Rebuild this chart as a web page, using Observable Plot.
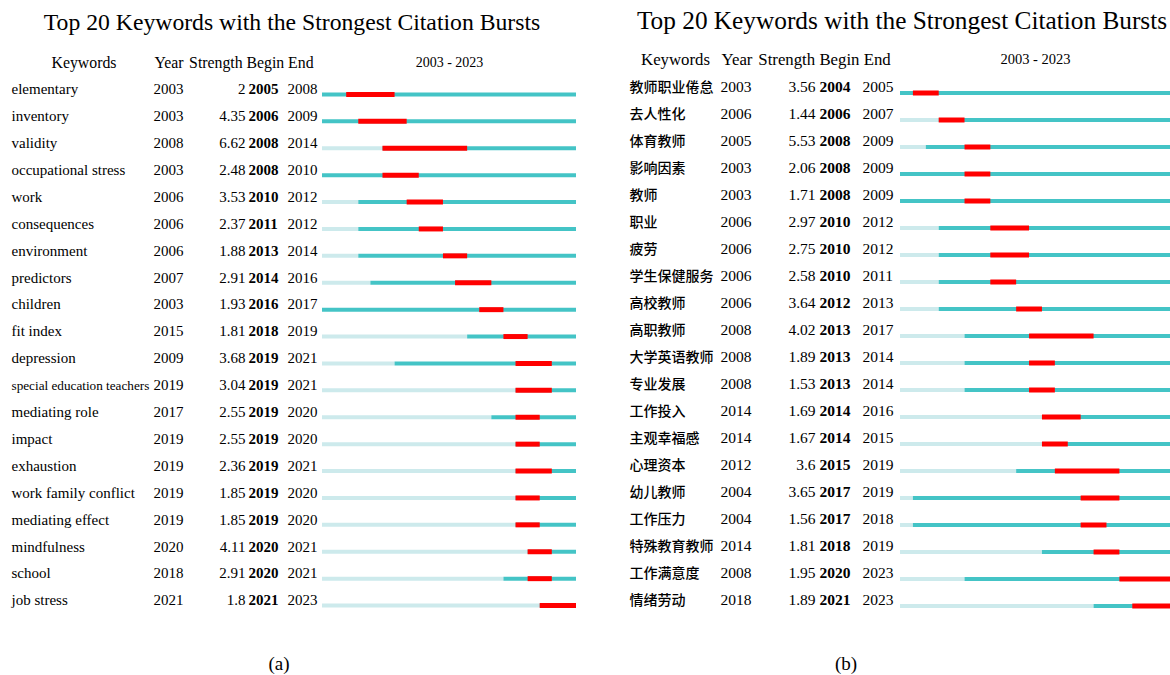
<!DOCTYPE html>
<html><head><meta charset="utf-8">
<script src="https://cdn.jsdelivr.net/npm/d3@7"></script>
<script src="https://cdn.jsdelivr.net/npm/@observablehq/plot@0.6"></script>
<style>
body{margin:0;background:#fff;width:1170px;height:675px;overflow:hidden;position:relative;font-family:"Liberation Serif","Times New Roman",serif;color:#000}
.title{position:absolute;text-align:center;white-space:nowrap}
.cap{position:absolute;font-size:19px;line-height:22px;text-align:center;width:60px}
.panel{position:absolute;top:0}
.panel svg{overflow:hidden;display:block}
</style></head><body>
<div class="title" style="left:0;width:584px;top:8px;font-size:23.7px;line-height:28px">Top 20 Keywords with the Strongest Citation Bursts</div>
<div class="title" style="left:590px;width:624px;top:6px;font-size:25.3px;line-height:28px">Top 20 Keywords with the Strongest Citation Bursts</div>
<div id="pa" class="panel" style="left:0"></div>
<div id="pb" class="panel" style="left:590px"></div>
<div class="cap" style="left:249px;top:653px">(a)</div>
<div class="cap" style="left:816px;top:653px">(b)</div>
<script>
// ---- data ----
const yearSpan = [2003, 2023];
const headers = ["Keywords", "Year", "Strength", "Begin", "End"];

const keywordsA = ["elementary","inventory","validity","occupational stress","work","consequences","environment","predictors","children","fit index","depression","special education teachers","mediating role","impact","exhaustion","work family conflict","mediating effect","mindfulness","school","job stress"];
const yearA = [2003,2003,2008,2003,2006,2006,2006,2007,2003,2015,2009,2019,2017,2019,2019,2019,2019,2020,2018,2021];
const strengthA = [2,4.35,6.62,2.48,3.53,2.37,1.88,2.91,1.93,1.81,3.68,3.04,2.55,2.55,2.36,1.85,1.85,4.11,2.91,1.8];
const beginA = [2005,2006,2008,2008,2010,2011,2013,2014,2016,2018,2019,2019,2019,2019,2019,2019,2019,2020,2020,2021];
const endA = [2008,2009,2014,2010,2012,2012,2014,2016,2017,2019,2021,2021,2020,2020,2021,2020,2020,2021,2021,2023];

const keywordsB = ["教师职业倦怠","去人性化","体育教师","影响因素","教师","职业","疲劳","学生保健服务","高校教师","高职教师","大学英语教师","专业发展","工作投入","主观幸福感","心理资本","幼儿教师","工作压力","特殊教育教师","工作满意度","情绪劳动"];
const yearB = [2003,2006,2005,2003,2003,2006,2006,2006,2006,2008,2008,2008,2014,2014,2012,2004,2004,2014,2008,2018];
const strengthB = [3.56,1.44,5.53,2.06,1.71,2.97,2.75,2.58,3.64,4.02,1.89,1.53,1.69,1.67,3.6,3.65,1.56,1.81,1.95,1.89];
const beginB = [2004,2006,2008,2008,2008,2010,2010,2010,2012,2013,2013,2013,2014,2014,2015,2017,2017,2018,2020,2021];
const endB = [2005,2007,2009,2009,2009,2012,2012,2011,2013,2017,2014,2014,2016,2015,2019,2019,2018,2019,2023,2023];

const LIGHT = "#cdeaec", TEAL = "#44c4c6", RED = "#ff0000";

const measureCtx = document.createElement("canvas").getContext("2d");
function fitSize(text, font, size, weight, maxW) {
  measureCtx.font = `${weight} ${size}px ${font}`;
  const w = measureCtx.measureText(text).width;
  return w > maxW ? size * maxW / w : size;
}

function panel(el, o) {
  const rows = o.keywords.map((k, i) => ({keyword: k, year: o.year[i], strength: o.strength[i], begin: o.begin[i], end: o.end[i]}));
  const ml = o.marginLeft, c = o.cols, hy = -(o.marginTop + o.step / 2 - o.headerY);
  const hdr = (t, x, anchor) => Plot.text([t], {text: d => d, frameAnchor: "top-left", lineAnchor: "middle", dx: x - ml, dy: o.step / 2 + hy, textAnchor: anchor, fontSize: o.headSize});
  const svg = Plot.plot({
    width: o.width, height: o.height,
    marginTop: o.marginTop, marginBottom: o.height - o.marginTop - o.step * rows.length,
    marginLeft: ml, marginRight: o.marginRight,
    x: {domain: [yearSpan[0], yearSpan[1] + 1], range: o.xRange, axis: null},
    y: {type: "point", domain: o.keywords, padding: 0.5, round: false, axis: null},
    style: {fontFamily: '"Liberation Serif","Times New Roman",serif', fontSize: o.fontSize + "px", color: "#000", background: "transparent"},
    marks: [
      Plot.ruleY(rows, {y: "keyword", x1: () => yearSpan[0], x2: "year", stroke: LIGHT, strokeWidth: 4, dy: o.barDy}),
      Plot.ruleY(rows, {y: "keyword", x1: "year", x2: () => yearSpan[1] + 1, stroke: TEAL, strokeWidth: 4, dy: o.barDy}),
      Plot.ruleY(rows, {y: "keyword", x1: "begin", x2: d => d.end + 1, stroke: RED, strokeWidth: 5, dy: o.barDy}),
      Plot.text(rows, {y: "keyword", text: "keyword", frameAnchor: "left", textAnchor: "start", dx: c.kw - ml, fontFamily: o.kwFont, fontWeight: o.kwWeight,
        fontSize: d => fitSize(d.keyword, o.kwFont, o.kwSize, o.kwWeight, o.kwMax)}),
      Plot.text(rows, {y: "keyword", text: d => String(d.year), frameAnchor: "left", textAnchor: "start", dx: c.year - ml}),
      Plot.text(rows, {y: "keyword", text: d => String(d.strength), frameAnchor: "left", textAnchor: "end", dx: c.strEnd - ml}),
      Plot.text(rows, {y: "keyword", text: d => String(d.begin), frameAnchor: "left", textAnchor: "start", dx: c.begin - ml, fontWeight: "bold"}),
      Plot.text(rows, {y: "keyword", text: d => String(d.end), frameAnchor: "left", textAnchor: "start", dx: c.end - ml}),
      hdr(headers[0], c.hKw, "middle"),
      hdr(headers[1], c.hYear, "start"),
      hdr(headers[2], c.hStr, "start"),
      hdr(headers[3], c.hBegin, "start"),
      hdr(headers[4], c.hEnd, "start"),
      Plot.text([`${yearSpan[0]} - ${yearSpan[1]}`], {text: d => d, frameAnchor: "top", lineAnchor: "middle", dy: o.step / 2 + hy, fontSize: o.spanSize})
    ]
  });
  el.appendChild(svg);
}

panel(document.getElementById("pa"), {
  keywords: keywordsA, year: yearA, strength: strengthA, begin: beginA, end: endA,
  width: 590, height: 630, marginTop: 75.5, step: 26.9, headerY: 62,
  marginLeft: 322, marginRight: 14, xRange: [322, 576], barDy: 5,
  fontSize: 15, kwSize: 15, kwFont: '"Liberation Serif","Times New Roman",serif', kwWeight: "normal", kwMax: 138,
  headSize: 15.8, spanSize: 14,
  cols: {kw: 11, year: 153, strEnd: 245, begin: 248, end: 287, hKw: 83.5, hYear: 154, hStr: 188.6, hBegin: 246, hEnd: 287.6}
});

panel(document.getElementById("pb"), {
  keywords: keywordsB, year: yearB, strength: strengthB, begin: beginB, end: endB,
  width: 580, height: 630, marginTop: 73.5, step: 27, headerY: 59,
  marginLeft: 310, marginRight: 0, xRange: [310, 581], barDy: 5.5,
  fontSize: 15.5, kwSize: 14, kwFont: '"Noto Sans CJK SC",sans-serif', kwWeight: 500, kwMax: 90,
  headSize: 16.8, spanSize: 14.5,
  cols: {kw: 39, year: 130, strEnd: 225, begin: 229, end: 272, hKw: 85, hYear: 131, hStr: 167.8, hBegin: 228.9, hEnd: 273.2}
});
</script>
</body></html>
